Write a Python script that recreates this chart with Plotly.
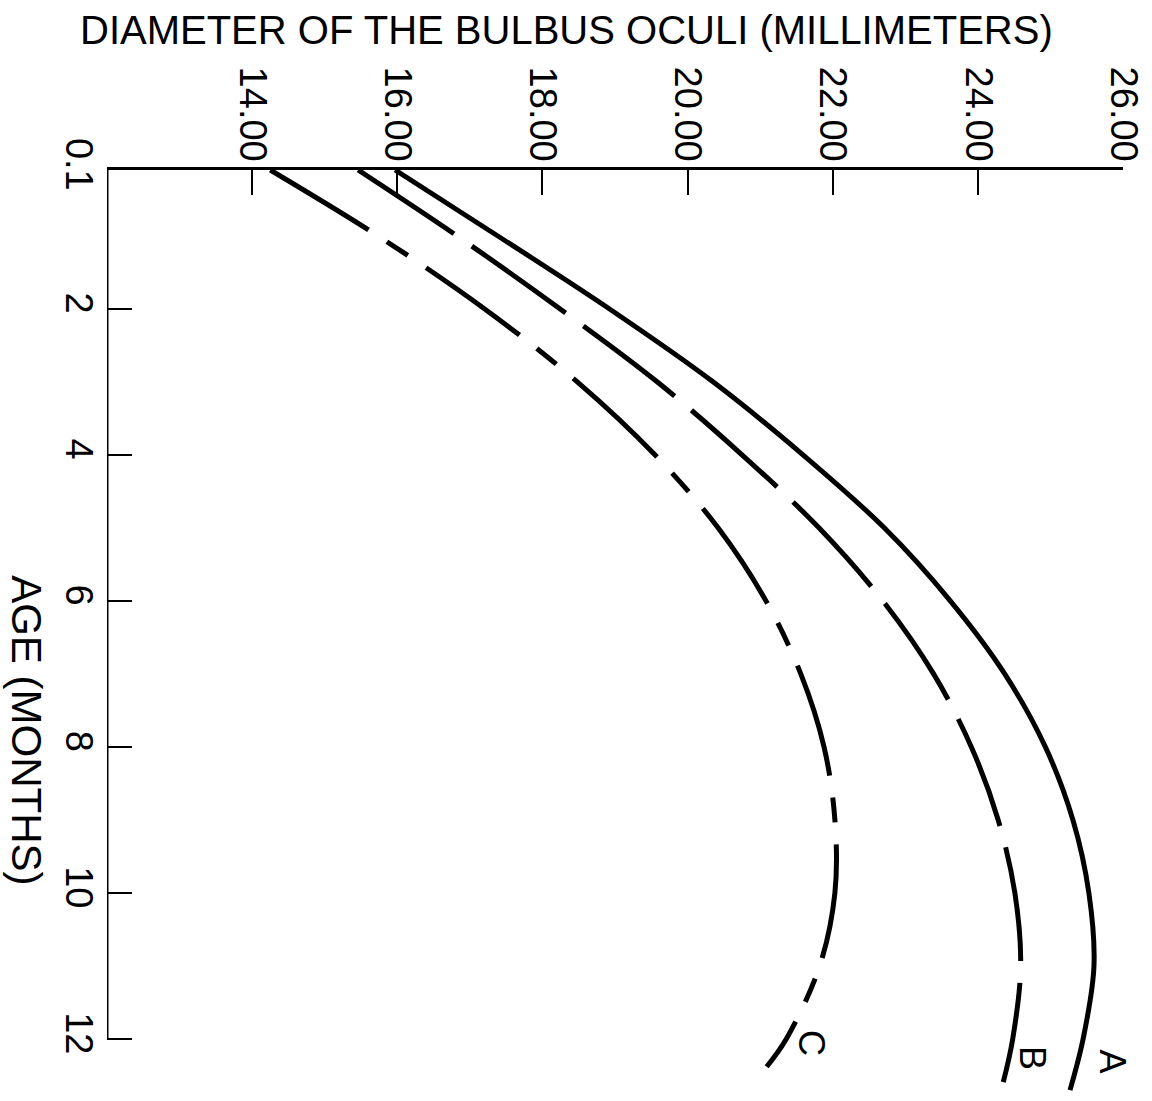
import plotly.graph_objects as go

# Age in months (vertical axis, increasing downward)
age_a = [0.1, 1, 2, 3, 4, 5, 6, 7, 8, 9, 10, 11, 12, 12.7]
diam_a = [15.97, 17.38, 18.92, 20.35, 21.59, 22.71, 23.62, 24.37, 24.93, 25.31, 25.53, 25.60, 25.45, 25.27]

age_b = [0.1, 1, 2, 3, 4, 5, 6, 7, 8, 9, 10, 11, 12, 12.59]
diam_b = [15.46, 16.82, 18.24, 19.58, 20.75, 21.81, 22.69, 23.39, 23.91, 24.28, 24.51, 24.59, 24.48, 24.35]

age_c = [0.1, 1, 2, 3, 4, 5, 6, 7, 8, 9, 10, 11, 12, 12.38]
diam_c = [14.25, 15.73, 17.20, 18.48, 19.55, 20.42, 21.08, 21.56, 21.88, 22.03, 22.03, 21.82, 21.36, 21.09]

diam_ticks = [14, 16, 18, 20, 22, 24, 26]
age_ticks = [0.1, 2, 4, 6, 8, 10, 12]
age_tick_text = ["0.1", "2", "4", "6", "8", "10", "12"]

curve_labels = ["A", "B", "C"]
label_pos = [(25.85, 12.31), (24.76, 12.26), (21.71, 12.05)]

FONT = "Liberation Sans, Arial, sans-serif"
LW = 5

fig = go.Figure()
fig.add_trace(go.Scatter(x=diam_a, y=age_a, mode="lines", line_shape="spline",
                         line=dict(color="black", width=LW), name="A"))
fig.add_trace(go.Scatter(x=diam_b, y=age_b, mode="lines", line_shape="spline",
                         line=dict(color="black", width=LW, dash="115px,22px"), name="B"))
fig.add_trace(go.Scatter(x=diam_c, y=age_c, mode="lines", line_shape="spline",
                         line=dict(color="black", width=LW, dash="115px,22px,25px,22px"), name="C"))

for txt, (xv, yv) in zip(curve_labels, label_pos):
    fig.add_annotation(x=xv, y=yv, text=txt, showarrow=False, textangle=90,
                       font=dict(family=FONT, size=36, color="black"))

# vertical axis line stops at 12 months
fig.add_shape(type="line", x0=12, x1=12, y0=0.1, y1=12, xref="x", yref="y",
              line=dict(color="black", width=3))

fig.add_annotation(text="DIAMETER OF THE BULBUS OCULI (MILLIMETERS)",
                   xref="paper", yref="paper", x=0.452, y=1.151,
                   xanchor="center", yanchor="middle", showarrow=False,
                   font=dict(family=FONT, size=40, color="black"))
fig.add_annotation(text="AGE (MONTHS)", xref="paper", yref="paper",
                   x=-0.0787, y=0.395, xanchor="center", yanchor="middle",
                   showarrow=False, textangle=90,
                   font=dict(family=FONT, size=42, color="black"))

fig.update_layout(
    width=1152, height=1101,
    margin=dict(l=107, r=29, t=170, b=5),
    paper_bgcolor="white", plot_bgcolor="white",
    showlegend=False,
    xaxis=dict(side="top", range=[12, 26], tickvals=diam_ticks, tickformat=".2f",
               ticks="inside", ticklen=25, tickwidth=2, tickcolor="black",
               showline=True, linewidth=3, linecolor="black",
               showgrid=False, zeroline=False, tickangle=90,
               ticklabelstandoff=-8,
               tickfont=dict(family=FONT, size=38, color="black")),
    yaxis=dict(range=[12.78, 0.1], tickvals=age_ticks, ticktext=age_tick_text,
               ticks="inside", ticklen=25, tickwidth=2, tickcolor="black",
               showline=False, showgrid=False, zeroline=False, tickangle=90,
               ticklabelstandoff=2,
               tickfont=dict(family=FONT, size=38, color="black")),
)

fig.write_html("out.html")
